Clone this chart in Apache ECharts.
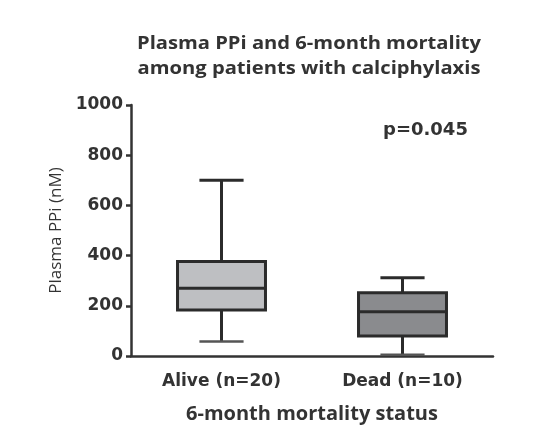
<!DOCTYPE html>
<html>
<head>
    <meta charset="utf-8">
    <title>Plasma PPi</title>
    <script src="https://cdn.jsdelivr.net/npm/echarts@6/dist/echarts.min.js"></script>
</head>
<body style="margin:0;background:#fff;">
    <div id="main" style="width:548px;height:436px;"></div>
    <script type="text/javascript">
        // data
        var categories = ['Alive (n=20)', 'Dead (n=10)'];
        var mins    = [58, 5];
        var q1s     = [183, 80];
        var medians = [270, 176];
        var q3s     = [376, 252];
        var maxs    = [700, 312];
        var boxColors = ['#bebfc2', '#8a8b8e'];
        var yTicks = [0, 200, 400, 600, 800, 1000];
        var pText = 'p=0.045';

        var rows = categories.map(function (c, i) {
            return [i, mins[i], q1s[i], medians[i], q3s[i], maxs[i]];
        });

        var myChart = echarts.init(document.getElementById('main'));

        function renderBox(params, api) {
            var idx = api.value(0);
            var band = api.size([1, 0])[0];
            var hw = band * 0.243;   // half box width
            var cw = band * 0.122;   // half cap width
            var pMin = api.coord([idx, api.value(1)]);
            var pQ1 = api.coord([idx, api.value(2)]);
            var pMed = api.coord([idx, api.value(3)]);
            var pQ3 = api.coord([idx, api.value(4)]);
            var pMax = api.coord([idx, api.value(5)]);
            var x = pMed[0];
            var ln = {stroke: '#2b2b2b', lineWidth: 3};
            return {
                type: 'group',
                children: [
                    {type: 'line', shape: {x1: x, y1: pMax[1], x2: x, y2: pQ3[1]}, style: ln},
                    {type: 'line', shape: {x1: x, y1: pQ1[1], x2: x, y2: pMin[1]}, style: ln},
                    {type: 'line', shape: {x1: x - cw, y1: pMax[1], x2: x + cw, y2: pMax[1]}, style: ln},
                    {type: 'line', shape: {x1: x - cw, y1: pMin[1], x2: x + cw, y2: pMin[1]}, style: {stroke: '#555', lineWidth: 2.5}},
                    {type: 'rect', shape: {x: x - hw, y: pQ3[1], width: hw * 2, height: pQ1[1] - pQ3[1]},
                        style: {fill: boxColors[idx], stroke: '#2b2b2b', lineWidth: 3}},
                    {type: 'line', shape: {x1: x - hw, y1: pMed[1], x2: x + hw, y2: pMed[1]}, style: ln}
                ]
            };
        }

        myChart.setOption({
            backgroundColor: '#fff',
            animation: false,
            grid: {left: 131, right: 55, top: 105, bottom: 80},
            graphic: [
                {type: 'text', x: 309, y: 31, scaleX: 1.12, style: {
                    text: 'Plasma PPi and 6-month mortality\namong patients with calciphylaxis',
                    textAlign: 'center', fill: '#333',
                    font: 'bold 18px "Open Sans"', lineHeight: 25
                }},
                {type: 'text', left: 383, top: 121, style: {
                    text: pText, fill: '#333', font: 'bold 18px "DejaVu Sans"'
                }}
            ],
            xAxis: {
                type: 'category',
                data: categories,
                name: '6-month mortality status',
                nameLocation: 'middle',
                nameGap: 48,
                nameTextStyle: {fontFamily: 'Open Sans', fontWeight: 'bold', fontSize: 20, color: '#333'},
                axisLine: {lineStyle: {color: '#333', width: 2.5}},
                axisTick: {alignWithLabel: true, length: 6, lineStyle: {color: '#333', width: 2.5}},
                axisLabel: {fontFamily: 'DejaVu Sans', fontWeight: 'bold', fontSize: 17, color: '#333', margin: 17},
                splitLine: {show: false}
            },
            yAxis: {
                type: 'value',
                min: yTicks[0],
                max: yTicks[yTicks.length - 1],
                interval: 200,
                name: 'Plasma PPi (nM)',
                nameLocation: 'middle',
                nameGap: 40,
                nameTextStyle: {fontFamily: 'Open Sans', fontSize: 17, color: '#333'},
                axisLine: {show: true, lineStyle: {color: '#333', width: 2.5}},
                axisTick: {show: true, length: 5, lineStyle: {color: '#333', width: 2.5}},
                axisLabel: {
                    fontFamily: 'DejaVu Sans', fontWeight: 'bold', fontSize: 17, color: '#333', margin: 8,
                    formatter: function (v) { return String(v); }
                },
                splitLine: {show: false}
            },
            series: [{
                type: 'custom',
                renderItem: renderBox,
                encode: {x: 0, y: [1, 2, 3, 4, 5]},
                data: rows,
                z: 3
            }]
        });
    </script>
</body>
</html>
